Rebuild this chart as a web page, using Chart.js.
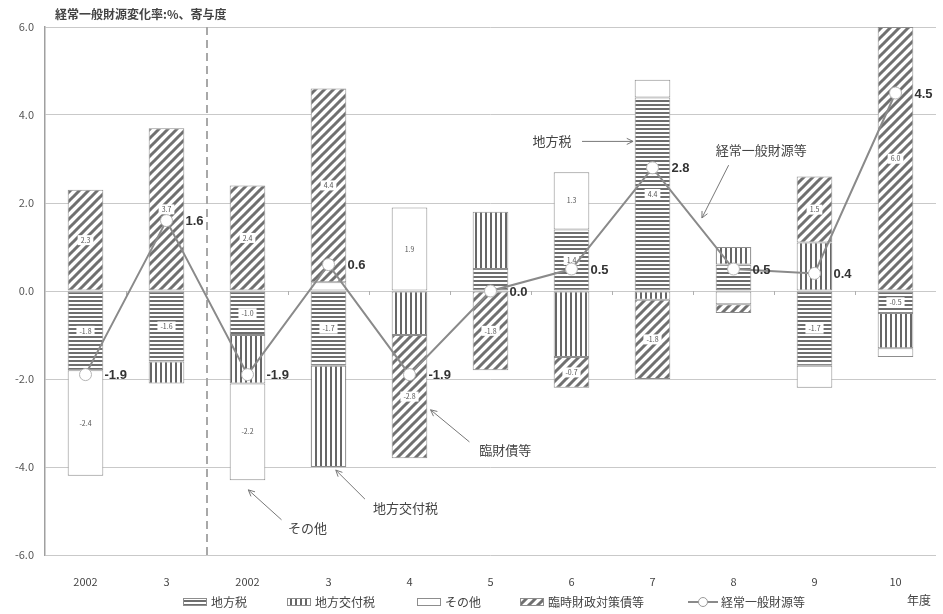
<!DOCTYPE html>
<html lang="ja">
<head>
<meta charset="utf-8">
<title>経常一般財源等の変化率と寄与度</title>
<script src="https://cdn.jsdelivr.net/npm/chart.js@4.4.1/dist/chart.umd.min.js"></script>
<style>
  html, body { margin: 0; padding: 0; background: #fff; }
</style>
</head>
<body>
<canvas id="chart" width="943" height="614"></canvas>
<script>
// 年度ラベル (2002-03 は旧ベース、2002-10 は新ベース)
const years = ['2002', '3', '2002', '3', '4', '5', '6', '7', '8', '9', '10'];

// 寄与度 (%)
const localTax    = [-1.8, -1.6, -1.0, -1.7, 0, 0.5, 1.4, 4.4, 0.6, -1.7, -0.5];
const localGrant  = [0, -0.5, -1.1, -2.3, -1.0, 1.3, -1.5, -0.2, 0.4, 1.1, -0.8];
const otherFunds  = [-2.4, 0, -2.2, 0.2, 1.9, 0, 1.3, 0.4, -0.3, -0.5, -0.2];
const rinzaiBonds = [2.3, 3.7, 2.4, 4.4, -2.8, -1.8, -0.7, -1.8, -0.2, 1.5, 6.0];

// 経常一般財源等 変化率 (%)
const generalRevenue = [-1.9, 1.6, -1.9, 0.6, -1.9, 0.0, 0.5, 2.8, 0.5, 0.4, 4.5];

const yTicks = [-6, -4, -2, 0, 2, 4, 6];

// 棒の中に数値を書く区間
const taxShown    = [1, 1, 1, 1, 0, 0, 1, 1, 0, 1, 1];
const grantShown  = [0, 0, 0, 0, 0, 0, 0, 0, 0, 0, 0];
const otherShown  = [1, 0, 1, 0, 1, 0, 1, 0, 0, 0, 0];
const rinzaiShown = [1, 1, 1, 1, 1, 1, 1, 1, 0, 1, 1];

const JP = '"Noto Sans CJK JP", "Noto Sans", sans-serif';
Chart.defaults.font.family = JP;

const canvas = document.getElementById('chart');
const ctx = canvas.getContext('2d');

// 網掛けパターン
function hatch(kind) {
    const c = document.createElement('canvas');
    const g = c.getContext('2d');
    if (kind === 'h') {
        c.width = 4; c.height = 4;
        g.fillStyle = '#fff'; g.fillRect(0, 0, 4, 4);
        g.fillStyle = '#6e6e6e'; g.fillRect(0, 0, 4, 2);
    } else if (kind === 'v') {
        c.width = 5; c.height = 5;
        g.fillStyle = '#fff'; g.fillRect(0, 0, 5, 5);
        g.fillStyle = '#676767'; g.fillRect(0, 0, 2, 5);
    } else if (kind === 'd') {
        const s = 9;
        c.width = s; c.height = s;
        g.fillStyle = '#fff'; g.fillRect(0, 0, s, s);
        g.strokeStyle = '#707070'; g.lineWidth = 3;
        g.beginPath();
        g.moveTo(-1, s + 1); g.lineTo(s + 1, -1);
        g.moveTo(-1, 1); g.lineTo(1, -1);
        g.moveTo(s - 1, s + 1); g.lineTo(s + 1, s - 1);
        g.stroke();
    } else {
        c.width = 2; c.height = 2;
        g.fillStyle = '#fff'; g.fillRect(0, 0, 2, 2);
    }
    return ctx.createPattern(c, 'repeat');
}

const nz = arr => arr.map(v => v === 0 ? null : v);

const barStyle = {
    type: 'bar',
    stack: 'sources',
    order: 1,
    borderColor: '#8d8d8d',
    borderWidth: 1,
    borderSkipped: false,
    barPercentage: 0.44,
    categoryPercentage: 1
};

// 吹き出し (年度インデックス, 値)
const callouts = [
    { text: '地方税', tx: 6.0, ty: 3.4, align: 'right', from: [6.13, 3.4], to: [6.76, 3.4] },
    { text: '経常一般財源等', tx: 7.78, ty: 3.2, align: 'left', from: [7.94, 2.86], to: [7.61, 1.66] },
    { text: '臨財債等', tx: 4.86, ty: -3.61, align: 'left', from: [4.74, -3.43], to: [4.26, -2.7] },
    { text: '地方交付税', tx: 3.55, ty: -4.93, align: 'left', from: [3.45, -4.73], to: [3.09, -4.07] },
    { text: 'その他', tx: 2.5, ty: -5.39, align: 'left', from: [2.42, -5.2], to: [2.01, -4.52] }
];

const legendX = [183, 287, 417, 520, 688];

function arrow(g, x1, y1, x2, y2) {
    g.beginPath();
    g.moveTo(x1, y1);
    g.lineTo(x2, y2);
    const a = Math.atan2(y2 - y1, x2 - x1);
    const h = 7;
    g.moveTo(x2 - h * Math.cos(a - 0.45), y2 - h * Math.sin(a - 0.45));
    g.lineTo(x2, y2);
    g.lineTo(x2 - h * Math.cos(a + 0.45), y2 - h * Math.sin(a + 0.45));
    g.stroke();
}

function drawSegmentLabels(chart) {
    const g = chart.ctx;
    g.save();
    g.font = '7px ' + JP;
    g.textAlign = 'center';
    g.textBaseline = 'middle';
    chart.data.datasets.forEach((ds, di) => {
        if (!ds.shown) return;
        const meta = chart.getDatasetMeta(di);
        meta.data.forEach((el, i) => {
            if (!ds.shown[i] || ds.data[i] == null) return;
            const p = el.getProps(['x', 'y', 'base'], true);
            const cy = (p.y + p.base) / 2;
            const txt = ds.data[i].toFixed(1);
            const w = g.measureText(txt).width + 6;
            g.fillStyle = '#fff';
            g.fillRect(p.x - w / 2, cy - 5, w, 10);
            g.fillStyle = '#555';
            g.fillText(txt, p.x, cy);
        });
    });
    g.restore();
}

const decorations = {
    id: 'decorations',
    beforeDatasetsDraw(chart) {
        const g = chart.ctx;
        const { x, y } = chart.scales;
        const area = chart.chartArea;
        g.save();
        // 旧ベースと新ベースの区切り
        const sx = x.getPixelForValue(1.5);
        g.strokeStyle = '#a8a8a8';
        g.lineWidth = 2;
        g.setLineDash([8, 5]);
        g.beginPath();
        g.moveTo(sx, area.top);
        g.lineTo(sx, area.bottom);
        g.stroke();
        g.setLineDash([]);
        // ゼロ線上の目盛り
        const y0 = y.getPixelForValue(0);
        g.strokeStyle = '#b0b0b0';
        g.lineWidth = 1;
        for (let i = 0; i < years.length - 1; i++) {
            const tx = Math.round(x.getPixelForValue(i + 0.5)) + 0.5;
            g.beginPath();
            g.moveTo(tx, y0);
            g.lineTo(tx, y0 + 4);
            g.stroke();
        }
        g.restore();
    },
    beforeDatasetDraw(chart, args) {
        if (args.meta.type === 'line') drawSegmentLabels(chart);
    },
    afterDatasetsDraw(chart) {
        const g = chart.ctx;
        const { x, y } = chart.scales;
        g.save();
        // 変化率の数値
        const lineIdx = chart.data.datasets.findIndex(d => d.type === 'line');
        const meta = chart.getDatasetMeta(lineIdx);
        g.font = 'bold 13px "Liberation Sans", Arial, sans-serif';
        g.fillStyle = '#333';
        g.textAlign = 'left';
        g.textBaseline = 'middle';
        meta.data.forEach((pt, i) => {
            g.fillText(generalRevenue[i].toFixed(1), pt.x + 19, pt.y + 1);
        });
        // 吹き出し
        g.font = '13px ' + JP;
        g.fillStyle = '#444';
        g.strokeStyle = '#777';
        g.lineWidth = 1;
        callouts.forEach(c => {
            g.textAlign = c.align;
            g.fillText(c.text, x.getPixelForValue(c.tx), y.getPixelForValue(c.ty));
            arrow(g,
                x.getPixelForValue(c.from[0]), y.getPixelForValue(c.from[1]),
                x.getPixelForValue(c.to[0]), y.getPixelForValue(c.to[1]));
        });
        g.restore();
    },
    afterDraw(chart) {
        const g = chart.ctx;
        g.save();
        g.fillStyle = '#444';
        g.textBaseline = 'middle';
        g.textAlign = 'left';
        g.font = 'bold 12px ' + JP;
        g.fillText('経常一般財源変化率:%、寄与度', 55, 14);
        g.font = '12px ' + JP;
        g.fillText('年度', 907, 600);
        // 凡例
        const ly = 602;
        chart.data.datasets.forEach((ds, i) => {
            const lx = legendX[i];
            let tx;
            if (ds.type === 'bar') {
                g.fillStyle = ds.backgroundColor;
                g.fillRect(lx, ly - 4, 24, 8);
                g.strokeStyle = '#8d8d8d';
                g.lineWidth = 1;
                g.strokeRect(lx + 0.5, ly - 3.5, 23, 7);
                tx = lx + 28;
            } else {
                g.strokeStyle = '#8a8a8a';
                g.lineWidth = 2;
                g.beginPath();
                g.moveTo(lx, ly);
                g.lineTo(lx + 30, ly);
                g.stroke();
                g.fillStyle = '#fff';
                g.strokeStyle = '#999';
                g.lineWidth = 1;
                g.beginPath();
                g.arc(lx + 15, ly, 4.5, 0, Math.PI * 2);
                g.fill();
                g.stroke();
                tx = lx + 33;
            }
            g.fillStyle = '#444';
            g.fillText(ds.label, tx, ly);
        });
        g.restore();
    }
};

new Chart(ctx, {
    data: {
        labels: years,
        datasets: [
            { ...barStyle, label: '地方税', data: nz(localTax), backgroundColor: hatch('h'), shown: taxShown },
            { ...barStyle, label: '地方交付税', data: nz(localGrant), backgroundColor: hatch('v'), shown: grantShown },
            { ...barStyle, label: 'その他', data: nz(otherFunds), backgroundColor: hatch('w'), shown: otherShown },
            { ...barStyle, label: '臨時財政対策債等', data: nz(rinzaiBonds), backgroundColor: hatch('d'), shown: rinzaiShown },
            {
                type: 'line',
                label: '経常一般財源等',
                stack: 'rate',
                order: 0,
                data: generalRevenue,
                borderColor: '#8a8a8a',
                borderWidth: 2,
                tension: 0,
                pointRadius: 6,
                pointBackgroundColor: '#fff',
                pointBorderColor: '#b4b4b4',
                pointBorderWidth: 1
            }
        ]
    },
    options: {
        responsive: false,
        animation: false,
        layout: { padding: { top: 27, right: 1, left: 0, bottom: 0 } },
        plugins: {
            legend: { display: false },
            tooltip: { enabled: false }
        },
        scales: {
            x: {
                stacked: true,
                grid: { display: false },
                border: { display: false },
                ticks: { color: '#444', font: { size: 11 }, padding: 12, maxRotation: 0, autoSkip: false },
                afterFit: s => { s.height = 59; }
            },
            y: {
                stacked: true,
                min: -6,
                max: 6,
                afterBuildTicks: s => { s.ticks = yTicks.map(v => ({ value: v })); },
                ticks: {
                    color: '#555',
                    font: { size: 11 },
                    padding: 11,
                    callback: v => v.toFixed(1)
                },
                grid: { color: '#c9c9c9', drawTicks: false },
                border: { color: '#a0a0a0', width: 1.5 },
                afterFit: s => { s.width = 45; }
            }
        }
    },
    plugins: [decorations]
});
</script>
</body>
</html>
